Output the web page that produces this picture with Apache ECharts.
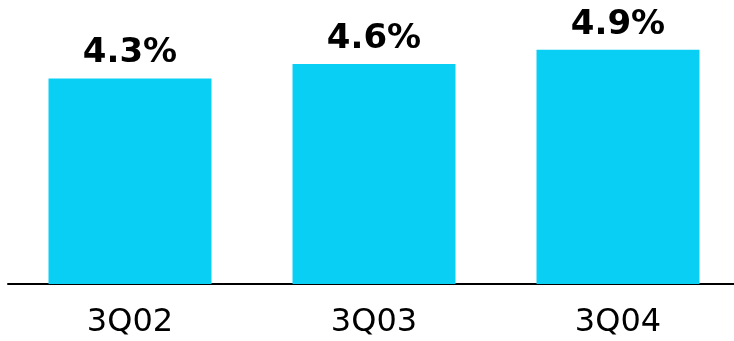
<!DOCTYPE html>
<html>
<head>
<meta charset="utf-8">
<script src="https://cdn.jsdelivr.net/npm/echarts@6/dist/echarts.min.js"></script>
<style>
html,body{margin:0;padding:0;background:#fff;overflow:hidden;width:734px;height:341px;}
#chart{width:740px;height:341px;}
</style>
</head>
<body>
<div id="chart"></div>
<script>
const categories = ['3Q02', '3Q03', '3Q04'];
const values = [4.3, 4.6, 4.9];

const chart = echarts.init(document.getElementById('chart'), null, {renderer: 'canvas'});
chart.setOption({
  animation: false,
  grid: {left: 8, right: 0, top: 21, bottom: 57, containLabel: false},
  xAxis: {
    type: 'category',
    data: categories,
    axisLine: {show: true, lineStyle: {color: '#000', width: 2}},
    axisTick: {show: false},
    axisLabel: {color: '#000', fontSize: 32, fontFamily: 'DejaVu Sans', margin: 23}
  },
  yAxis: {
    type: 'value', min: 0, max: 5.5,
    show: false
  },
  series: [{
    type: 'bar',
    data: values,
    barWidth: 163,
    itemStyle: {color: '#0ACFF5'},
    label: {
      show: true, position: 'top', distance: 8,
      formatter: p => p.value.toFixed(1) + '%',
      color: '#000', fontSize: 34, fontWeight: 'bold', fontFamily: 'DejaVu Sans'
    }
  }]
});
</script>
</body>
</html>
